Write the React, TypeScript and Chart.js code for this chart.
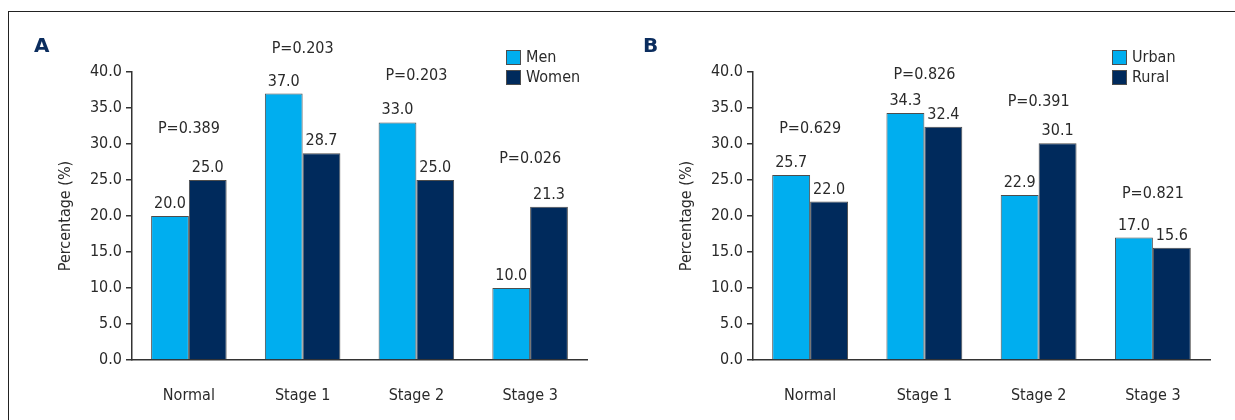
import React, { useEffect, useRef } from "react";
import { Chart, registerables } from "chart.js";

Chart.register(...registerables);

// ---------- data ----------
const categories = ["Normal", "Stage 1", "Stage 2", "Stage 3"];
const menValues = [20.0, 37.0, 33.0, 10.0];
const womenValues = [25.0, 28.7, 25.0, 21.3];
const urbanValues = [25.7, 34.3, 22.9, 17.0];
const ruralValues = [22.0, 32.4, 30.1, 15.6];
const pTextsA = ["P=0.389", "P=0.203", "P=0.203", "P=0.026"];
const pTextsB = ["P=0.629", "P=0.826", "P=0.391", "P=0.821"];
// height (in axis units) at which each P annotation sits
const pLevelA = [31.5, 42.6, 38.9, 27.3];
const pLevelB = [31.5, 39.0, 35.3, 22.5];
const yMin = 0;
const yMax = 40;
const yStep = 5;

// ---------- style ----------
const FONT = "'Liberation Sans Narrow', 'DejaVu Sans Condensed', 'Arial Narrow', sans-serif";
const FS = 16;
const TEXT = "#2a2a2a";
const LIGHT = "#00aeef";
const DARK = "#002a5c";
const EDGE = "#4d4d4d";
const AXIS = "#333333";

const annotPlugin = {
  id: "annot",
  afterDatasetsDraw(chart: any, _args: any, opts: any) {
    const ctx = chart.ctx;
    ctx.save();
    ctx.font = `${FS}px ${FONT}`;
    ctx.fillStyle = TEXT;
    ctx.textAlign = "center";
    ctx.textBaseline = "alphabetic";
    chart.data.datasets.forEach((ds: any, di: number) => {
      const meta = chart.getDatasetMeta(di);
      meta.data.forEach((el: any, i: number) => {
        ctx.fillText(Number(ds.data[i]).toFixed(1), el.x, el.y - 8);
      });
    });
    const xs = chart.scales.x;
    const ys = chart.scales.y;
    (opts.pTexts || []).forEach((t: string, i: number) => {
      ctx.fillText(t, xs.getPixelForValue(i), ys.getPixelForValue(opts.pLevels[i]));
    });
    // legend
    const lx = opts.legendX;
    let ly = opts.legendY;
    chart.data.datasets.forEach((ds: any) => {
      ctx.fillStyle = ds.backgroundColor;
      ctx.fillRect(lx, ly, 15, 15);
      ctx.strokeStyle = EDGE;
      ctx.lineWidth = 1;
      ctx.strokeRect(lx + 0.5, ly + 0.5, 14, 14);
      ctx.fillStyle = TEXT;
      ctx.textAlign = "left";
      ctx.textBaseline = "middle";
      ctx.fillText(ds.label, lx + 20, ly + 8);
      ly += 20;
    });
    ctx.restore();
  },
};

type PanelProps = {
  left: number;
  width: number;
  letter: string;
  letterX: number;
  labels: string[];
  names: string[];
  a: number[];
  b: number[];
  pTexts: string[];
  pLevels: number[];
  padLeft: number;
  padRight: number;
  legendX: number;
};

function Panel(p: PanelProps) {
  const ref = useRef<HTMLCanvasElement | null>(null);
  useEffect(() => {
    if (!ref.current) return;
    const chart = new Chart(ref.current, {
      type: "bar",
      data: {
        labels: p.labels,
        datasets: [
          {
            label: p.names[0],
            data: p.a,
            backgroundColor: LIGHT,
            borderColor: EDGE,
            borderWidth: 1,
            barPercentage: 1,
            categoryPercentage: 0.664,
          },
          {
            label: p.names[1],
            data: p.b,
            backgroundColor: DARK,
            borderColor: EDGE,
            borderWidth: 1,
            barPercentage: 1,
            categoryPercentage: 0.664,
          },
        ],
      },
      options: {
        responsive: false,
        animation: false,
        layout: { padding: { left: p.padLeft, right: p.padRight, top: 72, bottom: 0 } },
        plugins: {
          legend: { display: false },
          tooltip: { enabled: false },
          annot: { pTexts: p.pTexts, pLevels: p.pLevels, legendX: p.legendX, legendY: 50 },
        } as any,
        scales: {
          x: {
            grid: { display: false },
            border: { display: true, color: AXIS, width: 1.5 },
            ticks: { color: TEXT, font: { family: FONT, size: FS }, padding: 18 },
            afterFit: (s: any) => {
              s.height = 60;
            },
          },
          y: {
            min: yMin,
            max: yMax,
            grid: { drawOnChartArea: false, drawTicks: true, tickLength: 6, color: AXIS, lineWidth: 1.5 },
            border: { display: true, color: AXIS, width: 1.5 },
            ticks: {
              stepSize: yStep,
              color: TEXT,
              font: { family: FONT, size: FS },
              padding: 4,
              callback: (v: any) => Number(v).toFixed(1),
            },
            title: {
              display: true,
              text: "Percentage (%)",
              color: TEXT,
              font: { family: FONT, size: FS },
              padding: { top: 44, bottom: 0 },
            },
            afterFit: (s: any) => {
              s.width = 120;
            },
          },
        },
      },
      plugins: [annotPlugin],
    });
    return () => chart.destroy();
  }, []);
  return (
    <div style={{ position: "absolute", left: p.left, top: 0, width: p.width, height: 420 }}>
      <canvas ref={ref} width={p.width} height={420} style={{ width: p.width, height: 420 }} />
      <div
        style={{
          position: "absolute",
          left: p.letterX,
          top: 33,
          fontFamily: "'DejaVu Sans', sans-serif",
          fontWeight: "bold",
          fontSize: 20,
          color: "#0b2d5e",
        }}
      >
        {p.letter}
      </div>
    </div>
  );
}

export default function App() {
  return (
    <div
      style={{
        position: "fixed",
        left: 0,
        top: 0,
        width: 1235,
        height: 420,
        overflow: "hidden",
        background: "#fff",
      }}
    >
      <div
        style={{
          position: "absolute",
          left: 8,
          top: 11,
          width: 1400,
          height: 600,
          border: "1.5px solid #222",
        }}
      />
      <Panel
        left={0}
        width={617}
        letter="A"
        letterX={34}
        labels={categories}
        names={["Men", "Women"]}
        a={menValues}
        b={womenValues}
        pTexts={pTextsA}
        pLevels={pLevelA}
        padLeft={12}
        padRight={30}
        legendX={506}
      />
      <Panel
        left={617}
        width={618}
        letter="B"
        letterX={26}
        labels={categories}
        names={["Urban", "Rural"]}
        a={urbanValues}
        b={ruralValues}
        pTexts={pTextsB}
        pLevels={pLevelB}
        padLeft={16}
        padRight={25}
        legendX={495}
      />
    </div>
  );
}
